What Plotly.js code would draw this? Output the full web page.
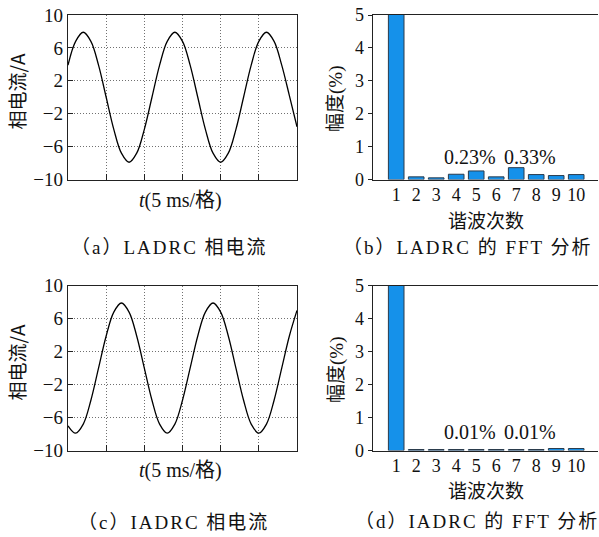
<!DOCTYPE html>
<html>
<head>
<meta charset="utf-8">
<script src="https://cdn.plot.ly/plotly-3.0.1.min.js"></script>
<style>
  html, body { margin: 0; padding: 0; background: #fff; }
  #chart { width: 599px; height: 537px; }
</style>
</head>
<body>
<div id="chart"></div>
<script>
// ---- data ----
const timeMs = [0,1,2,3,4,5,6,7,8,9,10,11,12,13,14,15,16,17,18,19,20,21,22,23,24,25,26,27,28,29,30];
const currentLADRC = [3.9,6.8,7.9,6.8,3.9,0,-3.9,-6.8,-7.9,-6.8,-3.9,0,3.9,6.8,7.9,6.8,3.9,0,-3.9,-6.8,-7.9,-6.8,-3.9,0,3.9,6.8,7.9,6.8,3.9,0.2,-3.6];
const currentIADRC = [-7.0,-7.9,-6.8,-3.9,0,3.9,6.8,7.9,6.8,3.9,0,-3.9,-6.8,-7.9,-6.8,-3.9,0,3.9,6.8,7.9,6.8,3.9,0,-3.9,-6.8,-7.9,-6.8,-3.9,0,3.9,7.0];
const harmonicOrder = [1,2,3,4,5,6,7,8,9,10];
const fftLADRC = [100,0.08,0.05,0.16,0.26,0.08,0.36,0.15,0.12,0.15];
const fftIADRC = [100,0.03,0.03,0.03,0.03,0.03,0.03,0.03,0.06,0.06];
const labelsLADRC = ['0.23%','0.33%'];
const labelsIADRC = ['0.01%','0.01%'];
const labelX = [4.69, 7.67];
const currentTicks = [-10,-6,-2,2,6,10];
const timeGrid = [5,10,15,20,25];
const captions = ['（a）LADRC 相电流','（b）LADRC 的 FFT 分析','（c）IADRC 相电流','（d）IADRC 的 FFT 分析'];

// ---- styling ----
const W = 599, H = 537;
const px = x => x / W;
const py = y => 1 - y / H;
const SERIF = "Liberation Serif, Noto Sans CJK SC, serif";
const CJK = "Noto Sans CJK SC, sans-serif";
const AX = '#222';
const GRID = '#707070';

const lineTrace = (y, xa, ya) => ({
  x: timeMs, y: y, xaxis: xa, yaxis: ya, type: 'scatter', mode: 'lines',
  line: {color: '#000', width: 1.3, shape: 'spline', smoothing: 1},
  hoverinfo: 'skip'
});
const barTrace = (y, xa, ya) => ({
  x: harmonicOrder, y: y, xaxis: xa, yaxis: ya, type: 'bar', width: 0.78,
  marker: {color: '#1591ea', line: {color: '#2a3b4c', width: 1}},
  hoverinfo: 'skip'
});

const data = [
  lineTrace(currentLADRC, 'x', 'y'),
  barTrace(fftLADRC, 'x2', 'y2'),
  lineTrace(currentIADRC, 'x3', 'y3'),
  barTrace(fftIADRC, 'x4', 'y4')
];

const lineDomX = [px(68), px(297)];
const barDomX = [px(372.7), px(598.3)];
const topDomY = [py(179.5), py(15)];
const botDomY = [py(450.5), py(285.7)];

const timeAxis = dom => ({
  domain: dom, range: [0, 30], tickvals: timeGrid, showticklabels: false,
  ticks: 'inside', ticklen: 6, tickcolor: AX, tickwidth: 1,
  showgrid: true, gridcolor: GRID, griddash: '1px,2px', gridwidth: 1,
  showline: true, linecolor: AX, linewidth: 1.2, mirror: true, zeroline: false, fixedrange: true
});
const currentAxis = dom => ({
  domain: dom, range: [-10, 10], tickvals: currentTicks,
  ticks: 'inside', ticklen: 5, tickcolor: AX, tickwidth: 1,
  tickfont: {family: SERIF, size: 19, color: '#111'},
  showgrid: true, gridcolor: GRID, griddash: '1px,2px', gridwidth: 1,
  showline: true, linecolor: AX, linewidth: 1.2, mirror: true, zeroline: false, fixedrange: true
});
const orderAxis = dom => ({
  domain: dom, range: [-0.175, 11.105], tickvals: harmonicOrder, ticks: '',
  tickfont: {family: SERIF, size: 18, color: '#111'}, ticklabelstandoff: -1,
  showgrid: false, showline: true, linecolor: AX, linewidth: 1.2, mirror: true,
  zeroline: false, fixedrange: true
});
const ampAxis = dom => ({
  domain: dom, range: [0, 5], dtick: 1, tick0: 0,
  ticks: 'outside', ticklen: 4, tickcolor: AX, tickwidth: 1,
  tickfont: {family: SERIF, size: 18, color: '#111'},
  showgrid: false, showline: true, linecolor: AX, linewidth: 1.2, mirror: false,
  zeroline: false, fixedrange: true
});

const ann = [];
const addText = (text, x, y, size, family, angle) => ann.push({
  text: text, xref: 'paper', yref: 'paper', x: px(x), y: py(y),
  xanchor: 'center', yanchor: 'middle', showarrow: false, textangle: angle || 0,
  font: {family: family, size: size, color: '#111'}
});
// y titles
addText('相电流/A', 15.5, 92, 19, CJK, -90);
addText('相电流/A', 15.5, 363, 19, CJK, -90);
addText('幅度<span style="font-family:Liberation Serif">(%)</span>', 334, 99, 19, CJK, -90);
addText('幅度<span style="font-family:Liberation Serif">(%)</span>', 334, 370, 19, CJK, -90);
// x titles
addText('<i>t</i>(5 ms/格)', 180, 200, 20, SERIF);
addText('<i>t</i>(5 ms/格)', 180, 470, 20, SERIF);
addText('谐波次数', 486, 219, 19, CJK);
addText('谐波次数', 486, 489, 19, CJK);
// captions
addText(captions[0], 169, 247, 19, SERIF);
addText(captions[1], 468, 248, 19, SERIF);
addText(captions[2], 173, 522, 19, SERIF);
addText(captions[3], 477, 521, 19, SERIF);
// bar value labels
labelsLADRC.forEach((t, i) => ann.push({
  text: t, xref: 'x2', yref: 'y2', x: labelX[i], y: 0.68, showarrow: false,
  xanchor: 'center', yanchor: 'middle', font: {family: SERIF, size: 20, color: '#111'}
}));
labelsIADRC.forEach((t, i) => ann.push({
  text: t, xref: 'x4', yref: 'y4', x: labelX[i], y: 0.57, showarrow: false,
  xanchor: 'center', yanchor: 'middle', font: {family: SERIF, size: 20, color: '#111'}
}));

const layout = {
  width: W, height: H, margin: {l: 0, r: 0, t: 0, b: 0},
  paper_bgcolor: '#fff', plot_bgcolor: '#fff', showlegend: false,
  xaxis: Object.assign(timeAxis(lineDomX), {anchor: 'y'}),
  yaxis: Object.assign(currentAxis(topDomY), {anchor: 'x'}),
  xaxis2: Object.assign(orderAxis(barDomX), {anchor: 'y2'}),
  yaxis2: Object.assign(ampAxis(topDomY), {anchor: 'x2'}),
  xaxis3: Object.assign(timeAxis(lineDomX), {anchor: 'y3'}),
  yaxis3: Object.assign(currentAxis(botDomY), {anchor: 'x3'}),
  xaxis4: Object.assign(orderAxis(barDomX), {anchor: 'y4'}),
  yaxis4: Object.assign(ampAxis(botDomY), {anchor: 'x4'}),
  annotations: ann
};

const gd = document.getElementById('chart');
Plotly.newPlot(gd, data, layout, {staticPlot: true, displayModeBar: false}).then(() => {
  // widen the caption lettering like the typeset original
  gd.querySelectorAll('.annotation-text').forEach(t => {
    if (captions.indexOf(t.textContent) < 0) return;
    t.style.letterSpacing = '2px';
  });
});
</script>
</body>
</html>
